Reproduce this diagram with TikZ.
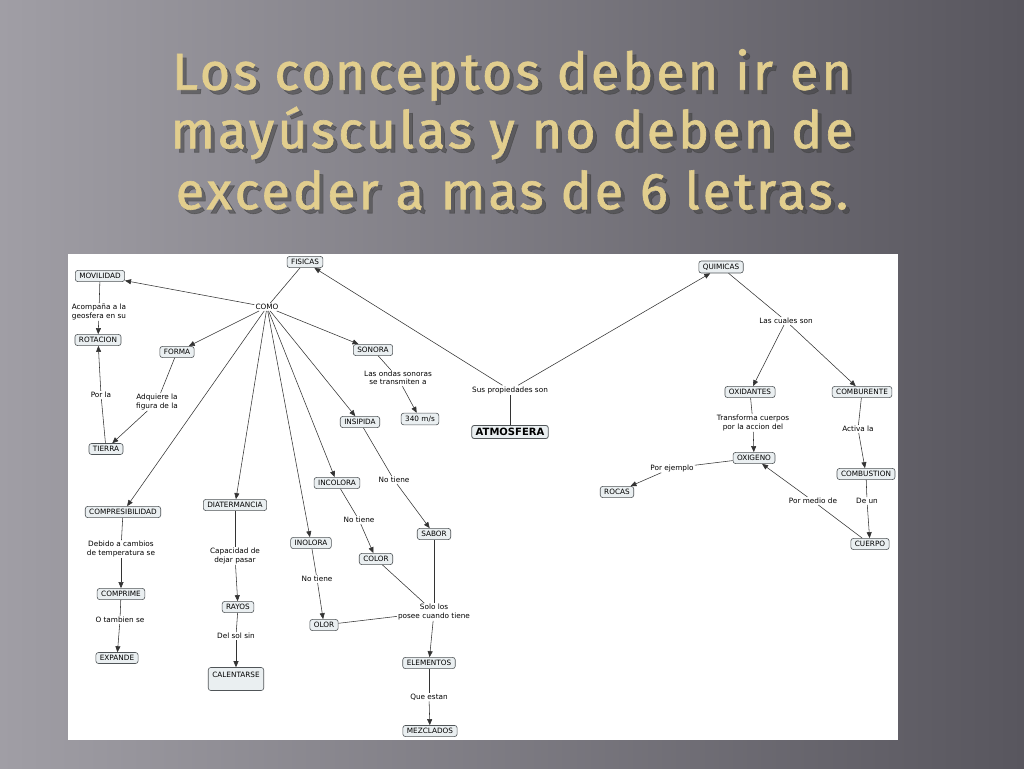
\documentclass[tikz,border=0pt]{standalone}
\usepackage{fontspec}
\setmainfont{DejaVu Sans}
\newfontfamily\titlefont[LetterSpace=6,FakeBold=1.2]{Fira Sans}
\usetikzlibrary{arrows.meta}
\definecolor{bgl}{RGB}{160,158,165}
\definecolor{bgd}{RGB}{88,86,94}
\definecolor{gold}{RGB}{226,206,142}
\definecolor{boxf}{RGB}{234,239,241}
\definecolor{boxd}{RGB}{80,85,88}
\tikzset{
 c/.style={draw=boxd,fill=boxf,rounded corners=2.5pt,line width=0.6pt,font=\fontsize{7.3}{8.3}\selectfont,inner xsep=4pt,inner ysep=2.8pt},
 lb/.style={font=\fontsize{7.3}{8.3}\selectfont,align=center,inner sep=1pt,fill=white},
 ln/.style={draw=black!80,line width=0.55pt},
 ar/.style={ln,-{Triangle[length=6pt,width=5pt]}},
 ttl/.style={font=\titlefont\fontsize{52}{54}\selectfont}
}
\begin{document}
\begin{tikzpicture}[x=1pt,y=-1pt]
\useasboundingbox (0,0) rectangle (1024,768);
\shade[left color=bgl,right color=bgd] (0,0) rectangle (1024,768);
\fill[white] (68,254) rectangle (898,740);
\foreach \yy/\t in {75/Los conceptos deben ir en,133/mayúsculas y no deben de,190/exceder a mas de 6 letras.}{
 \node[ttl,text=black!75,opacity=.55] at (516,\yy+4) {\t};
 \node[ttl,text=gold] (t\yy) at (512,\yy) {\t};}
% nodes
\node[c] (fis) at (305,262) {FISICAS};
\node[c] (mov) at (100,276) {MOVILIDAD};
\node[lb] (como) at (267,307) {COMO};
\node[c] (rot) at (98,340) {ROTACION};
\node[c] (forma) at (177,352) {FORMA};
\node[c] (son) at (373,350) {SONORA};
\node[lb] (acomp) at (99,312) {Acompaña a la\\geosfera en su};
\node[lb] (ondas) at (398,378) {Las ondas sonoras\\se transmiten a};
\node[c] (ms) at (420,419) {340 m/s};
\node[c] (ins) at (360,422) {INSIPIDA};
\node[c,font=\bfseries\fontsize{10}{11}\selectfont,line width=0.8pt] (atm) at (510,432) {ATMOSFERA};
\node[lb] (sus) at (510,390) {Sus propiedades son};
\node[lb] (porla) at (101,395) {Por la};
\node[lb] (adq) at (157,402) {Adquiere la\\figura de la};
\node[c] (tie) at (106,449) {TIERRA};
\node[c] (inc) at (337,483) {INCOLORA};
\node[lb] (nt1) at (394,480) {No tiene};
\node[c] (comp) at (123,512) {COMPRESIBILIDAD};
\node[c] (diat) at (235,505) {DIATERMANCIA};
\node[c] (inol) at (311,543) {INOLORA};
\node[lb] (nt2) at (359,520) {No tiene};
\node[c] (sab) at (434,534) {SABOR};
\node[c] (col) at (376,559) {COLOR};
\node[lb] (deb) at (121,549) {Debido a cambios\\de temperatura se};
\node[lb] (cap) at (235,556) {Capacidad de\\dejar pasar};
\node[lb] (nt3) at (317,579) {No tiene};
\node[c] (cmp) at (121,594) {COMPRIME};
\node[c] (ray) at (238,607) {RAYOS};
\node[c] (olor) at (324,625) {OLOR};
\node[lb] (solo) at (434,612) {Solo los\\posee cuando tiene};
\node[lb] (otam) at (120,620) {O tambien se};
\node[lb] (dels) at (236,636) {Del sol sin};
\node[c] (exp) at (117,658) {EXPANDE};
\node[c,minimum height=23pt,text depth=8pt] (cal) at (236,679) {CALENTARSE};
\node[c] (ele) at (429,663) {ELEMENTOS};
\node[lb] (que) at (429,697) {Que estan};
\node[c] (mez) at (430,731) {MEZCLADOS};
\node[c] (qui) at (721,267) {QUIMICAS};
\node[lb] (cua) at (786,321) {Las cuales son};
\node[c] (oxi) at (750,392) {OXIDANTES};
\node[c] (comb) at (862,392) {COMBURENTE};
\node[lb] (tra) at (753,423) {Transforma cuerpos\\por la accion del};
\node[lb] (act) at (858,429) {Activa la};
\node[c] (oxg) at (754,458) {OXIGENO};
\node[c] (cbs) at (866,474) {COMBUSTION};
\node[lb] (pej) at (672,468) {Por ejemplo};
\node[c] (roc) at (617,492) {ROCAS};
\node[lb] (pmd) at (813,501) {Por medio de};
\node[lb] (deun) at (867,501) {De un};
\node[c] (cue) at (870,544) {CUERPO};
% edges
\path[ln] (fis) -- (como);
\foreach \n in {mov,forma,son,ins,inc,inol,diat,comp} \path[ar] (como) -- (\n);
\path[ln] (atm) -- (sus);
\path[ar] (sus) -- (fis);
\path[ar] (sus) -- (qui);
\path[ln] (mov) -- (acomp); \path[ar] (acomp) -- (rot);
\path[ln] (tie) -- (porla); \path[ar] (porla) -- (rot);
\path[ln] (forma) -- (adq); \path[ar] (adq) -- (tie);
\path[ln] (son) -- (ondas); \path[ar] (ondas) -- (ms);
\path[ln] (ins) -- (nt1); \path[ar] (nt1) -- (sab);
\path[ln] (inc) -- (nt2); \path[ar] (nt2) -- (col);
\path[ln] (inol) -- (nt3); \path[ar] (nt3) -- (olor);
\path[ln] (col) -- (solo); \path[ln] (sab) -- (solo); \path[ln] (olor) -- (solo);
\path[ar] (solo) -- (ele);
\path[ln] (ele) -- (que); \path[ar] (que) -- (mez);
\path[ln] (comp) -- (deb); \path[ar] (deb) -- (cmp);
\path[ln] (cmp) -- (otam); \path[ar] (otam) -- (exp);
\path[ln] (diat) -- (cap); \path[ar] (cap) -- (ray);
\path[ln] (ray) -- (dels); \path[ar] (dels) -- (cal);
\path[ln] (qui) -- (cua); \path[ar] (cua) -- (oxi); \path[ar] (cua) -- (comb);
\path[ln] (oxi) -- (tra); \path[ar] (tra) -- (oxg);
\path[ln] (oxg) -- (pej); \path[ar] (pej) -- (roc);
\path[ln] (cue) -- (pmd); \path[ar] (pmd) -- (oxg);
\path[ln] (comb) -- (act); \path[ar] (act) -- (cbs);
\path[ln] (cbs) -- (deun); \path[ar] (deun) -- (cue);
\end{tikzpicture}
\end{document}
